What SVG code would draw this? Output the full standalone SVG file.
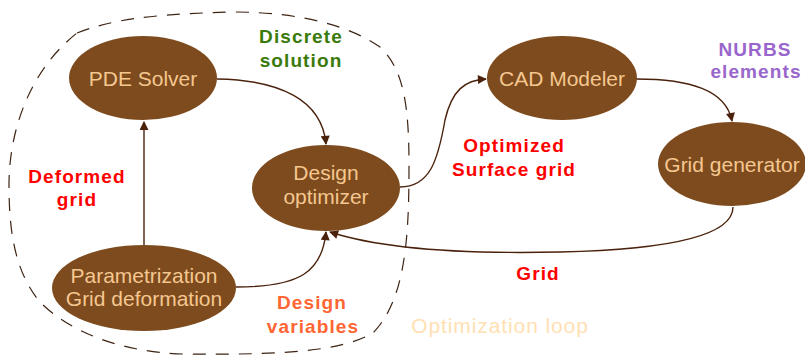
<svg xmlns="http://www.w3.org/2000/svg" width="805" height="358" viewBox="0 0 805 358">
  <style>
    .node ellipse { fill: #7d4b1d; }
    .node text { font-family: "Liberation Sans", Arial, sans-serif; font-size: 21px; fill: #f5c790; text-anchor: middle; }
    .edge { fill: none; stroke: #4a220c; stroke-width: 1.4; marker-end: url(#arrow); }
    .lbl { font-family: "Liberation Sans", Arial, sans-serif; font-size: 19px; font-weight: bold; letter-spacing: 1.1px; text-anchor: middle; }
    .loop { fill: none; stroke: #3d2414; stroke-width: 1.2; stroke-dasharray: 13 10; }
  </style>
  <defs>
    <marker id="arrow" viewBox="0 0 10 10" refX="9" refY="5" markerWidth="11" markerHeight="9" markerUnits="userSpaceOnUse" orient="auto">
      <path d="M0,0 L10,5 L0,10 Z" fill="#4a220c"/>
    </marker>
  </defs>

  <rect width="805" height="358" fill="#ffffff"/>

  <!-- dashed boundary of the optimization loop -->
  <path class="loop" d="M77,33 C110,20 150,14 233,12 C300,12 350,26 380,47 C405,70 409,110 409,167 C409,240 405,300 373,333 C340,352 280,355 183,354 C120,352 70,332 40,302 C15,272 9,232 9,185 C9,130 30,70 77,33 Z"/>

  <!-- connectors -->
  <g id="connectors">
    <path class="edge" d="M217,79 C280,80 322,100 326,144"/>
    <path class="edge" d="M144,245 L144,122"/>
    <path class="edge" d="M236,287 C300,287 322,272 326,232"/>
    <path class="edge" d="M400,187 C430,187 438,160 445,120 C452,90 465,80 486,79"/>
    <path class="edge" d="M636,79 C690,79 726,90 732,121"/>
    <path class="edge" d="M733,207 C733,240 650,250 560,252 C470,254 385,250 330,232"/>
  </g>

  <!-- nodes -->
  <g id="pde-solver" class="node">
    <ellipse cx="143" cy="78" rx="74" ry="42"/>
    <text x="143" y="86">PDE Solver</text>
  </g>
  <g id="design-optimizer" class="node">
    <ellipse cx="326" cy="188" rx="74" ry="43"/>
    <text x="326" y="180">Design</text>
    <text x="326" y="204">optimizer</text>
  </g>
  <g id="parametrization" class="node">
    <ellipse cx="144" cy="288" rx="92" ry="43"/>
    <text x="144" y="283">Parametrization</text>
    <text x="144" y="306">Grid deformation</text>
  </g>
  <g id="cad-modeler" class="node">
    <ellipse cx="562" cy="78" rx="75" ry="42"/>
    <text x="562" y="86">CAD Modeler</text>
  </g>
  <g id="grid-generator" class="node">
    <ellipse cx="732" cy="164" rx="74" ry="42"/>
    <text x="732" y="172">Grid generator</text>
  </g>

  <!-- edge labels -->
  <g id="labels">
    <text class="lbl" x="301" y="43" fill="#3a7a0a">Discrete</text>
    <text class="lbl" x="301" y="67" fill="#3a7a0a">solution</text>
    <text class="lbl" x="77" y="183" fill="#ff0000">Deformed</text>
    <text class="lbl" x="77" y="206" fill="#ff0000">grid</text>
    <text class="lbl" x="312" y="309" fill="#ff6633">Design</text>
    <text class="lbl" x="313" y="333" fill="#ff6633">variables</text>
    <text class="lbl" x="514" y="152" fill="#ff0000">Optimized</text>
    <text class="lbl" x="514" y="176" fill="#ff0000">Surface grid</text>
    <text class="lbl" x="755" y="56" fill="#9966cc">NURBS</text>
    <text class="lbl" x="756" y="78" fill="#9966cc">elements</text>
    <text class="lbl" x="538" y="280" fill="#ff0000">Grid</text>
    <text x="500" y="333" font-family="Liberation Sans, Arial, sans-serif" font-size="21px" letter-spacing="0.9" text-anchor="middle" fill="#ffe0b3">Optimization loop</text>
  </g>
</svg>
